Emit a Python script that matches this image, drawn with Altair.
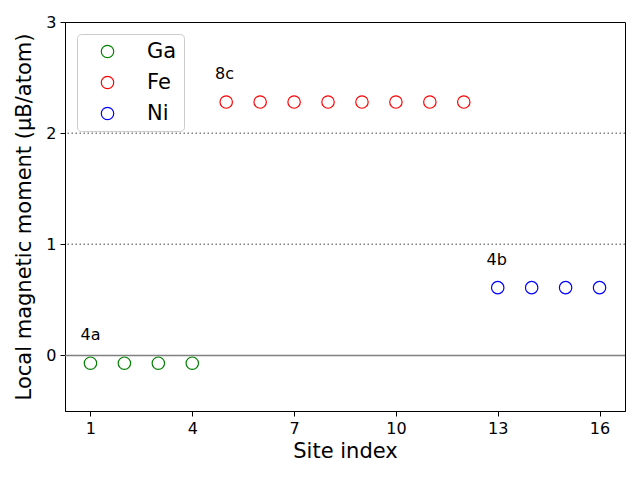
import altair as alt
import pandas as pd

# --- data ---
ga_x = [1, 2, 3, 4]
ga_y = [-0.07, -0.07, -0.07, -0.07]
fe_x = [5, 6, 7, 8, 9, 10, 11, 12]
fe_y = [2.28, 2.28, 2.28, 2.28, 2.28, 2.28, 2.28, 2.28]
ni_x = [13, 14, 15, 16]
ni_y = [0.61, 0.61, 0.61, 0.61]
elements = ["Ga", "Fe", "Ni"]
colors = ["#008000", "#ff0000", "#0000ff"]

label_text = ["4a", "8c", "4b"]
label_x = [1.0, 4.95, 12.97]
label_y = [0.18, 2.53, 0.86]

dotted_y = [1, 2]
solid_y = [0]

x_ticks = [1, 4, 7, 10, 13, 16]
y_ticks = [0, 1, 2, 3]

rows = []
for el, xs, ys in (("Ga", ga_x, ga_y), ("Fe", fe_x, fe_y), ("Ni", ni_x, ni_y)):
    for xv, yv in zip(xs, ys):
        rows.append({"site": xv, "moment": yv, "element": el})
df = pd.DataFrame(rows)
labels_df = pd.DataFrame({"x": label_x, "y": label_y, "t": label_text})
dotted_df = pd.DataFrame({"y": dotted_y})
solid_df = pd.DataFrame({"y": solid_y})

FONT = "DejaVu Sans"

xscale = alt.Scale(domain=[0.25, 16.75], nice=False, zero=False)
yscale = alt.Scale(domain=[-0.5, 3], nice=False, zero=False)

xaxis = alt.Axis(values=x_ticks, format="d", title="Site index", grid=False, labelFontSize=16,
                 titleFontSize=21, titleFontWeight="normal", tickSize=5,
                 labelColor="black", titleColor="black", domainColor="black",
                 tickColor="black", labelFont=FONT, titleFont=FONT, titlePadding=4,
                 labelPadding=4)
yaxis = alt.Axis(values=y_ticks, format="d", title="Local magnetic moment (μB/atom)", grid=False,
                 labelFontSize=16, titleFontSize=21, titleFontWeight="normal",
                 tickSize=5, labelColor="black", titleColor="black",
                 domainColor="black", tickColor="black", labelFont=FONT,
                 titleFont=FONT, titlePadding=11, labelPadding=4)

solid = alt.Chart(solid_df).mark_rule(color="gray", strokeWidth=1.5).encode(
    y=alt.Y("y:Q", scale=yscale, axis=yaxis)
)
dotted = alt.Chart(dotted_df).mark_rule(color="gray", strokeWidth=1.5, strokeDash=[1.5, 2.5]).encode(
    y=alt.Y("y:Q", scale=yscale)
)

points = alt.Chart(df).mark_point(shape="circle", filled=False, size=154, strokeWidth=1.2,
                                  opacity=1).encode(
    x=alt.X("site:Q", scale=xscale, axis=xaxis),
    y=alt.Y("moment:Q", scale=yscale),
    color=alt.Color("element:N", scale=alt.Scale(domain=elements, range=colors),
                    sort=elements,
                    legend=alt.Legend(title=None, orient="none", legendX=12, legendY=12,
                                      labelFontSize=21, labelFont=FONT, labelColor="black",
                                      symbolType="circle", symbolSize=154, symbolOpacity=1,
                                      symbolStrokeWidth=1.2, symbolFillColor="white",
                                      padding=7, rowPadding=9, symbolOffset=13,
                                      labelOffset=29, strokeColor="#cccccc",
                                      fillColor="white", cornerRadius=4)),
)

texts = alt.Chart(labels_df).mark_text(fontSize=16, font=FONT, color="black",
                                       align="center", baseline="middle").encode(
    x=alt.X("x:Q", scale=xscale),
    y=alt.Y("y:Q", scale=yscale),
    text="t:N",
)

chart = alt.layer(solid, dotted, points, texts).properties(
    width=560, height=389,
    padding={"left": 57, "top": 14, "right": 7, "bottom": 61},
    autosize=alt.AutoSizeParams(type="none"),
).configure_view(stroke="black", strokeWidth=1)

chart.save("out.html", embed_options={"renderer": "svg", "actions": False})
